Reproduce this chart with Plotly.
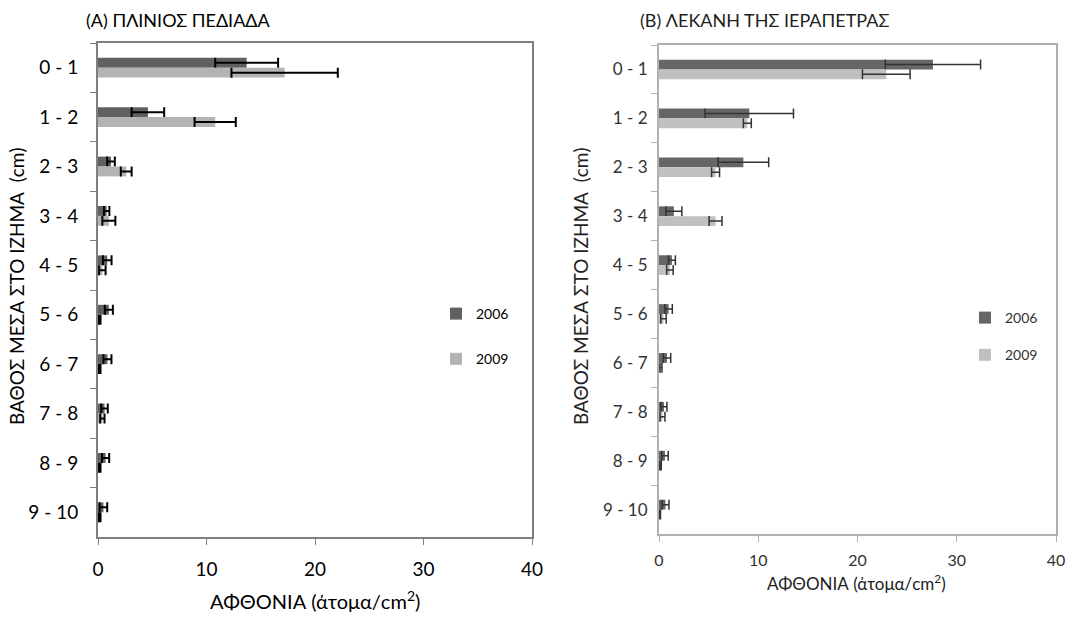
import plotly.graph_objects as go

categories = ["0 - 1", "1 - 2", "2 - 3", "3 - 4", "4 - 5", "5 - 6", "6 - 7", "7 - 8", "8 - 9", "9 - 10"]

# Panel A: Plinios plain
a_2006 = [13.7, 4.6, 1.2, 0.8, 0.85, 1.0, 0.87, 0.6, 0.7, 0.5]
a_2006_err = [2.9, 1.5, 0.35, 0.25, 0.4, 0.37, 0.37, 0.3, 0.33, 0.35]
a_2009 = [17.2, 10.8, 2.6, 1.0, 0.4, 0.15, 0.15, 0.4, 0.15, 0.15]
a_2009_err = [4.9, 1.9, 0.5, 0.6, 0.3, 0.08, 0.08, 0.2, 0.08, 0.08]

# Panel B: Ierapetra basin
b_2006 = [27.6, 9.1, 8.5, 1.5, 1.3, 0.97, 0.8, 0.5, 0.6, 0.65]
b_2006_err = [4.8, 4.45, 2.55, 0.8, 0.35, 0.37, 0.38, 0.3, 0.33, 0.35]
b_2009 = [22.9, 8.9, 5.7, 5.7, 1.1, 0.45, 0.2, 0.35, 0.15, 0.1]
b_2009_err = [2.4, 0.4, 0.4, 0.65, 0.33, 0.27, 0.1, 0.25, 0.08, 0.05]

x_ticks = [0, 10, 20, 30, 40]
series_names = ["2006", "2009"]

FONT = "Lato, Liberation Sans, sans-serif"
W, H = 1070, 626

fig = go.Figure()

def add_bars(vals, errs, name, color, xa, ya, legend, group, ecolor, ethick):
    fig.add_trace(go.Bar(
        y=categories, x=vals, orientation="h", name=name,
        marker=dict(color=color, line=dict(width=0)),
        error_x=dict(type="data", array=errs, visible=True, color=ecolor,
                     thickness=ethick, width=5),
        xaxis=xa, yaxis=ya, legend=legend, legendgroup=group,
    ))

add_bars(a_2006, a_2006_err, series_names[0], "#606060", "x", "y", "legend", "a1", "#000000", 2)
add_bars(a_2009, a_2009_err, series_names[1], "#b3b3b3", "x", "y", "legend", "a2", "#000000", 2)
add_bars(b_2006, b_2006_err, series_names[0], "#666666", "x2", "y2", "legend2", "b1", "#333333", 1.5)
add_bars(b_2009, b_2009_err, series_names[1], "#c0c0c0", "x2", "y2", "legend2", "b2", "#333333", 1.5)

def px_x(p):
    return p / W

def px_y(p):
    return 1 - p / H

axis_common = dict(showgrid=False, zeroline=False, showline=True, mirror=True,
                   ticks="outside", ticklen=6, automargin=False)

fig.update_layout(
    width=W, height=H,
    margin=dict(l=0, r=0, t=0, b=0),
    paper_bgcolor="white", plot_bgcolor="white",
    barmode="group", bargap=0.6, bargroupgap=0,
    font=dict(family=FONT, color="#000000"),
    xaxis=dict(domain=[px_x(98), px_x(532)], range=[0, 40], tickvals=x_ticks,
               anchor="y", linecolor="#7f7f7f", linewidth=2, tickcolor="#7f7f7f",
               tickfont=dict(size=19), ticklabelstandoff=8, **axis_common),
    yaxis=dict(domain=[px_y(537), px_y(43)], autorange="reversed", anchor="x",
               type="category", tickson="boundaries", linecolor="#7f7f7f", linewidth=2,
               tickcolor="#7f7f7f", tickfont=dict(size=19), ticklabelstandoff=14,
               **axis_common),
    xaxis2=dict(domain=[px_x(659), px_x(1056)], range=[0, 40], tickvals=x_ticks,
                anchor="y2", linecolor="#b0b0b0", linewidth=2, tickcolor="#b0b0b0",
                tickfont=dict(size=16, color="#333333"), ticklabelstandoff=5, **axis_common),
    yaxis2=dict(domain=[px_y(534), px_y(45)], autorange="reversed", anchor="x2",
                type="category", tickson="boundaries", linecolor="#b0b0b0", linewidth=2,
                tickcolor="#b0b0b0", tickfont=dict(size=17, color="#333333"),
                ticklabelstandoff=6, **axis_common),
    legend=dict(x=px_x(436), y=px_y(298), xanchor="left", yanchor="top",
                font=dict(size=14), tracegroupgap=24, itemwidth=30,
                bgcolor="rgba(0,0,0,0)"),
    legend2=dict(x=px_x(965), y=px_y(302), xanchor="left", yanchor="top",
                 font=dict(size=14, color="#333333"), tracegroupgap=16, itemwidth=30,
                 bgcolor="rgba(0,0,0,0)"),
)

annotations = [
    dict(text="(A) ΠΛΙΝΙΟΣ ΠΕΔΙΑΔΑ", x=px_x(84), y=px_y(20), xanchor="left", yanchor="middle",
         font=dict(size=18)),
    dict(text="(B) ΛΕΚΑΝΗ ΤΗΣ ΙΕΡΑΠΕΤΡΑΣ", x=px_x(638), y=px_y(20), xanchor="left",
         yanchor="middle", font=dict(size=18, color="#222222")),
    dict(text="ΑΦΘΟΝΙΑ (άτομα/cm<sup>2</sup>)", x=px_x(315), y=px_y(600), xanchor="center",
         yanchor="middle", font=dict(size=20)),
    dict(text="ΑΦΘΟΝΙΑ (άτομα/cm<sup>2</sup>)", x=px_x(857), y=px_y(582), xanchor="center",
         yanchor="middle", font=dict(size=17, color="#222222")),
    dict(text="ΒΑΘΟΣ ΜΕΣΑ ΣΤΟ ΙΖΗΜΑ  (cm)", x=px_x(16), y=px_y(286), xanchor="center",
         yanchor="middle", textangle=-90, font=dict(size=19)),
    dict(text="ΒΑΘΟΣ ΜΕΣΑ ΣΤΟ ΙΖΗΜΑ  (cm)", x=px_x(580), y=px_y(286), xanchor="center",
         yanchor="middle", textangle=-90, font=dict(size=19, color="#222222")),
]
for a in annotations:
    a.update(xref="paper", yref="paper", showarrow=False)
fig.update_layout(annotations=annotations)

fig.write_html("out.html",
               config={"displayModeBar": False},
               post_script="document.body.style.margin='0';document.body.style.overflow='hidden';")
